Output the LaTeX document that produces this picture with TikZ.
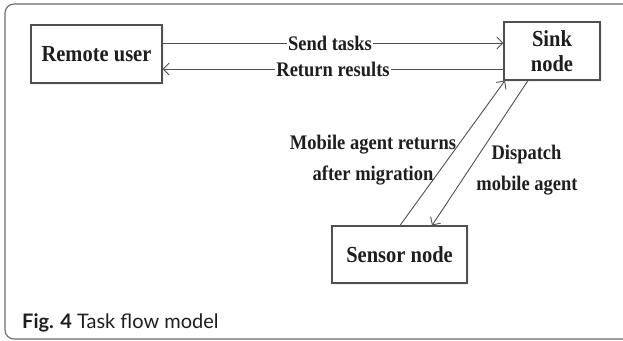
\documentclass[tikz,border=0pt]{standalone}
\usepackage{fontspec}
\setmainfont{Liberation Serif}
\newfontfamily\capfont{Lato}
\usetikzlibrary{arrows.meta,shadows}

\definecolor{linecol}{HTML}{505050}
\definecolor{textcol}{HTML}{1E1E1E}
\definecolor{framecol}{HTML}{6A6A6A}

\newcommand{\tallbox}[1]{\scalebox{1}[1.12]{#1}}

\tikzset{
  box/.style={draw=linecol, line width=1.1pt, fill=white, inner sep=0pt,
    font=\fontsize{20.5}{25}\selectfont\bfseries, text=textcol, align=center,
    drop shadow={opacity=0.12, shadow xshift=2pt, shadow yshift=-2pt}},
  flow/.style={draw=linecol, line width=0.9pt, -{Straight Barb[length=6pt,width=12pt,line width=0.9pt]}},
  lbl/.style={font=\fontsize{18.5}{22}\selectfont\bfseries, text=textcol, inner sep=0pt},
  onlbl/.style={lbl, fill=white, inner xsep=1pt, inner ysep=2pt}
}

\begin{document}
\begin{tikzpicture}[x=1pt,y=-1pt]
\useasboundingbox (0,0) rectangle (623,340);
\clip (0,0) rectangle (623,340);

% outer frame
\draw[framecol, line width=1.1pt, rounded corners=9pt] (5,4) rectangle (650,339);

% the three parties
\node[box, minimum width=131pt, minimum height=58pt] (ru) at (96.5,54) {\tallbox{Remote user}};
\node[box, minimum width=96pt, minimum height=58pt] (sk) at (552,51) {\tallbox{Sink}\\\tallbox{node}};
\node[box, minimum width=135pt, minimum height=57pt] (sn) at (399.5,254.5) {\tallbox{Sensor node}};

% reference rows and columns for the connectors
\coordinate (rowsend) at (0,43);
\coordinate (rowret) at (0,69);
\coordinate (colup) at (400,0);
\coordinate (coluptip) at (505,0);
\coordinate (coldn) at (528,0);
\coordinate (coldntip) at (432,0);

% remote user <-> sink node
\draw[flow] (ru.east |- rowsend) -- node[onlbl, pos=0.5, xshift=-3pt]{\tallbox{Send tasks}} (sk.west |- rowsend);
\draw[flow] (sk.west |- rowret) -- node[onlbl, pos=0.5]{\tallbox{Return results}} (ru.east |- rowret);

% sink node <-> sensor node
\draw[flow] (sn.north -| colup) -- (sk.south -| coluptip);
\draw[flow] (sk.south -| coldn) -- (sn.north -| coldntip);

% labels of the diagonal connectors
\node[lbl, anchor=base] (l1) at (373,149) {\tallbox{Mobile agent returns}};
\node[lbl, anchor=base] (l2) at (373,180) {\tallbox{after migration}};
\node[lbl, anchor=base] (l3) at (526.5,159) {\tallbox{Dispatch}};
\node[lbl, anchor=base] (l4) at (527,190) {\tallbox{mobile agent}};

% caption
\node[anchor=base west, inner sep=0pt, font=\capfont\fontsize{20}{24}\selectfont, text=textcol] (cap) at (22,328)
  {\textbf{Fig. 4} Task flow model};
\end{tikzpicture}
\end{document}
